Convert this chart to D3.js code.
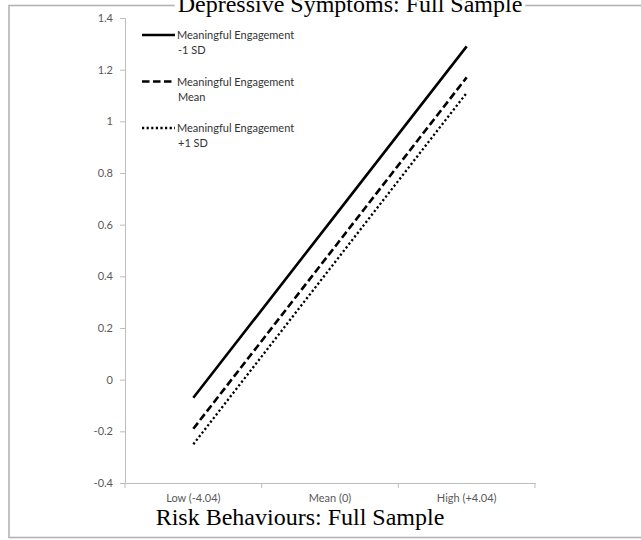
<!DOCTYPE html>
<html>
<head>
<meta charset="utf-8">
<script src="https://cdn.jsdelivr.net/npm/d3@7"></script>
<style>
  html, body { margin: 0; padding: 0; background: #fff; }
  svg { display: block; }
</style>
</head>
<body>
<script>
// Simple-slopes data: predicted outcome at three levels of the predictor
const categories = ["Low (-4.04)", "Mean (0)", "High (+4.04)"];
const legendLines = [
  ["Meaningful Engagement", "-1 SD"],
  ["Meaningful Engagement", "Mean"],
  ["Meaningful Engagement", "+1 SD"]
];
const engagementLow = [-0.07, 0.61, 1.29];
const engagementMean = [-0.19, 0.49, 1.17];
const engagementHigh = [-0.25, 0.43, 1.11];
const yTicks = [-0.4, -0.2, 0, 0.2, 0.4, 0.6, 0.8, 1, 1.2, 1.4];
const topTitle = "Depressive Symptoms: Full Sample";
const bottomTitle = "Risk Behaviours: Full Sample";

const W = 641, H = 540;
const plot = { left: 125, right: 535, top: 18, bottom: 483 };

const svg = d3.select("body").append("svg")
  .attr("width", W).attr("height", H);

svg.append("rect").attr("width", W).attr("height", H).attr("fill", "#fff");

// outer frame (open on the right side)
svg.append("rect")
  .attr("x", 9).attr("y", 5.5)
  .attr("width", 700).attr("height", 532)
  .attr("fill", "none")
  .attr("stroke", "#b4b4b4")
  .attr("stroke-width", 1.6);

const x = d3.scaleBand().domain(categories).range([plot.left, plot.right]).padding(0);
const y = d3.scaleLinear().domain([-0.4, 1.4]).range([plot.bottom, plot.top]);
const cx = c => x(c) + x.bandwidth() / 2;

const axisColor = "#bdbdbd";
const labelColor = "#595959";
const sans = "Lato, 'Open Sans', sans-serif";

// y axis
const yAxis = svg.append("g")
  .attr("transform", `translate(${plot.left},0)`)
  .call(d3.axisLeft(y).tickValues(yTicks).tickSize(5).tickPadding(7)
    .tickFormat(d => String(d)));
yAxis.select(".domain").attr("stroke", axisColor);
yAxis.selectAll(".tick line").attr("stroke", axisColor);
yAxis.selectAll(".tick text")
  .attr("fill", labelColor)
  .style("font-family", sans)
  .style("font-size", "11px");

// x axis: labels at category centres, tick marks at category boundaries
const xAxis = svg.append("g")
  .attr("transform", `translate(0,${plot.bottom})`)
  .call(d3.axisBottom(x).tickSize(0).tickPadding(11));
xAxis.select(".domain").attr("stroke", axisColor);
xAxis.selectAll(".tick text")
  .attr("fill", labelColor)
  .style("font-family", sans)
  .style("font-size", "11px");
const boundaries = [x(categories[0])].concat(categories.map(c => x(c) + x.bandwidth()));
xAxis.selectAll("line.bound")
  .data(boundaries)
  .enter().append("line")
  .attr("class", "bound")
  .attr("x1", d => d).attr("x2", d => d)
  .attr("y1", 0).attr("y2", 5)
  .attr("stroke", axisColor);

// series lines
const series = [
  { values: engagementLow, dash: null, width: 2.6 },
  { values: engagementMean, dash: "7.5,3.5", width: 2.6 },
  { values: engagementHigh, dash: "2.2,2.4", width: 2.3 }
];

const line = d3.line()
  .x((d, i) => cx(categories[i]))
  .y(d => y(d));

svg.append("g").selectAll("path")
  .data(series)
  .enter().append("path")
  .attr("d", d => line(d.values))
  .attr("fill", "none")
  .attr("stroke", "#000")
  .attr("stroke-width", d => d.width)
  .attr("stroke-dasharray", d => d.dash);

// legend
const legend = svg.append("g").attr("transform", "translate(142,35)");
const item = legend.selectAll("g")
  .data(series)
  .enter().append("g")
  .attr("transform", (d, i) => `translate(0,${i * 46.5})`);
item.append("line")
  .attr("x1", 0).attr("x2", 33)
  .attr("y1", 0).attr("y2", 0)
  .attr("stroke", "#000")
  .attr("stroke-width", d => d.width)
  .attr("stroke-dasharray", d => d.dash);
item.each(function (d, i) {
  const t = d3.select(this).append("text")
    .attr("x", 35).attr("y", 4)
    .attr("fill", "#333")
    .style("font-family", sans)
    .style("font-size", "11px");
  legendLines[i].forEach((s, k) => {
    t.append("tspan").attr("x", k === 0 ? 35 : 36).attr("dy", k === 0 ? 0 : 15).text(s);
  });
});

// titles
const serif = "'Liberation Serif', 'Times New Roman', serif";
const topBg = svg.append("rect").attr("fill", "#fff");
const tTop = svg.append("text")
  .attr("x", 350).attr("y", 12)
  .attr("text-anchor", "middle")
  .attr("fill", "#000")
  .style("font-family", serif)
  .style("font-size", "24px")
  .text(topTitle);
const bb = tTop.node().getBBox();
topBg
  .attr("x", bb.x - 3).attr("y", 0)
  .attr("width", bb.width + 6).attr("height", 10);

svg.append("text")
  .attr("x", 300).attr("y", 525)
  .attr("text-anchor", "middle")
  .attr("fill", "#000")
  .style("font-family", serif)
  .style("font-size", "24px")
  .text(bottomTitle);
</script>
</body>
</html>
